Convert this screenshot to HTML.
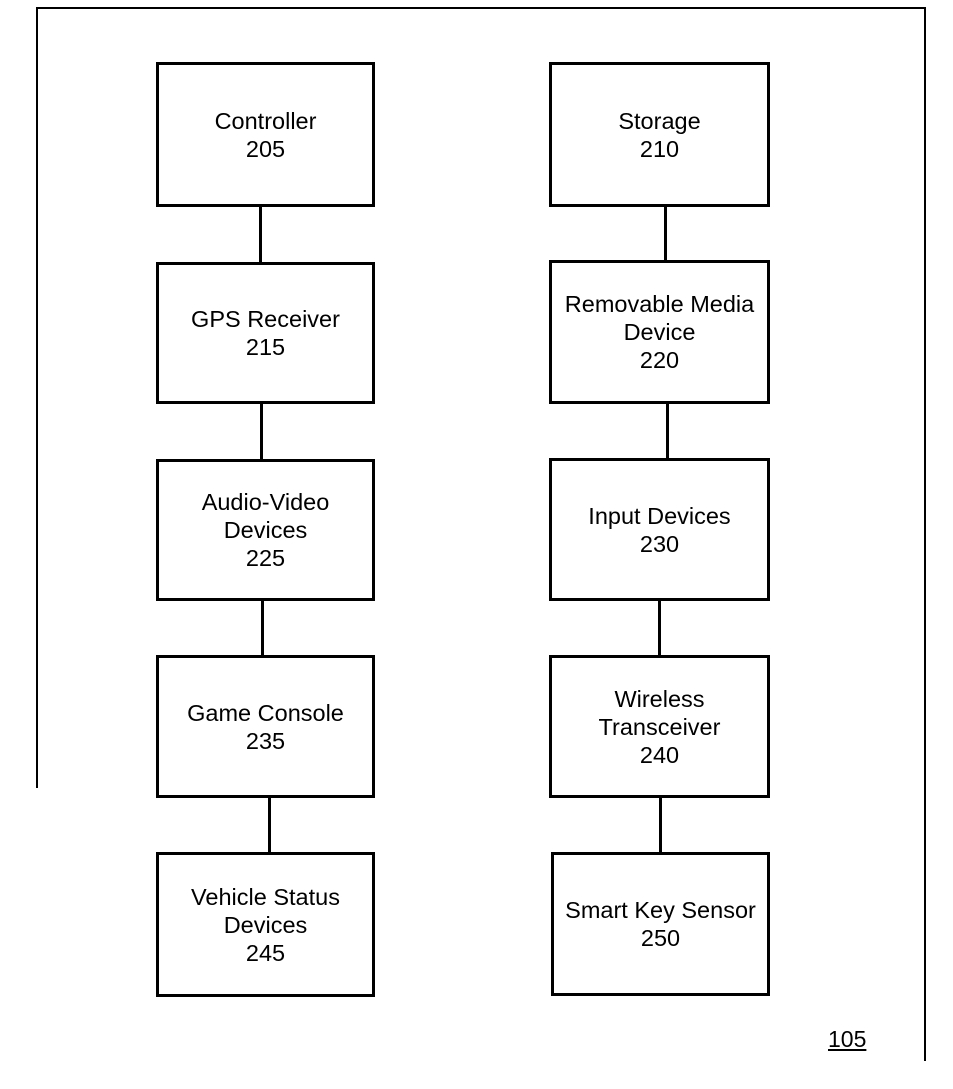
<!DOCTYPE html><html><head><style>
body{margin:0;background:#fff;width:953px;height:1089px;position:relative;overflow:hidden;font-family:"Liberation Sans",Arial,sans-serif}
.b{position:absolute;border:3px solid #000;box-sizing:border-box;display:flex;align-items:center;justify-content:center;text-align:center;font-size:23.5px;line-height:28px;color:#000;white-space:nowrap}
.l{position:absolute;background:#000}
</style></head><body>
<div class="l" style="left:36px;top:7px;width:889px;height:1.5px"></div>
<div class="l" style="left:36px;top:7px;width:1.5px;height:781px"></div>
<div class="l" style="left:924px;top:7px;width:1.5px;height:1054px"></div>
<div class="b" style="left:156px;top:62px;width:219px;height:145px">Controller<br>205</div>
<div class="b" style="left:156px;top:262px;width:219px;height:142px">GPS Receiver<br>215</div>
<div class="b" style="left:156px;top:459px;width:219px;height:142px">Audio-Video<br>Devices<br>225</div>
<div class="b" style="left:156px;top:655px;width:219px;height:143px">Game Console<br>235</div>
<div class="b" style="left:156px;top:852px;width:219px;height:145px">Vehicle Status<br>Devices<br>245</div>
<div class="b" style="left:549px;top:62px;width:221px;height:145px">Storage<br>210</div>
<div class="b" style="left:549px;top:260px;width:221px;height:144px">Removable Media<br>Device<br>220</div>
<div class="b" style="left:549px;top:458px;width:221px;height:143px">Input Devices<br>230</div>
<div class="b" style="left:549px;top:655px;width:221px;height:143px">Wireless<br>Transceiver<br>240</div>
<div class="b" style="left:551px;top:852px;width:219px;height:144px">Smart Key Sensor<br>250</div>
<div class="l" style="left:259px;top:206px;width:2.5px;height:57px"></div>
<div class="l" style="left:260px;top:403px;width:2.5px;height:57px"></div>
<div class="l" style="left:261px;top:600px;width:2.5px;height:56px"></div>
<div class="l" style="left:268px;top:797px;width:2.5px;height:56px"></div>
<div class="l" style="left:664px;top:206px;width:2.5px;height:55px"></div>
<div class="l" style="left:666px;top:403px;width:2.5px;height:56px"></div>
<div class="l" style="left:658px;top:600px;width:2.5px;height:56px"></div>
<div class="l" style="left:659px;top:797px;width:2.5px;height:56px"></div>
<div style="position:absolute;left:828px;top:1026px;font-size:23px;text-decoration:underline">105</div>
</body></html>
